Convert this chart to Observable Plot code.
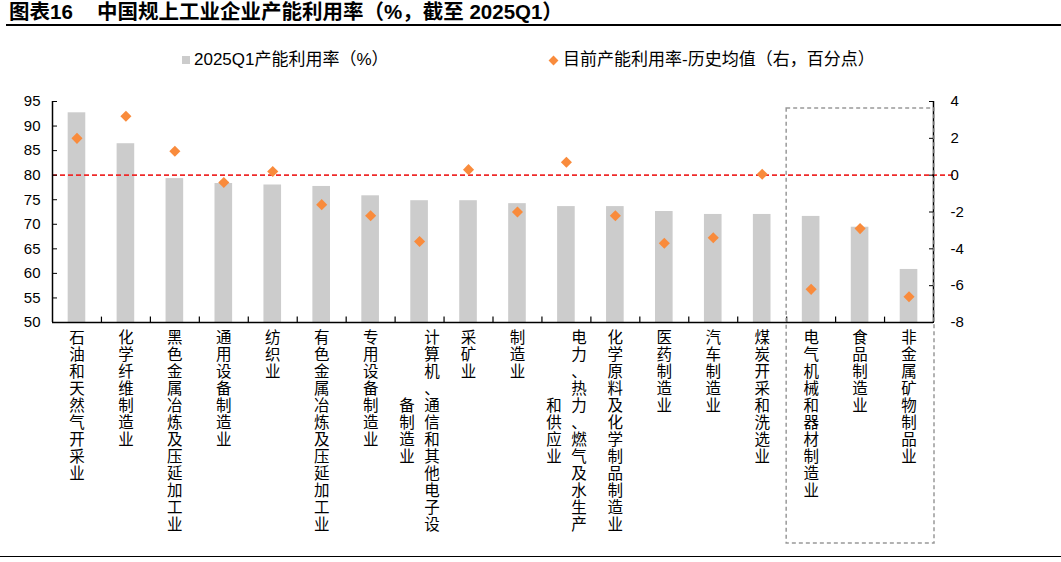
<!DOCTYPE html>
<html><head><meta charset="utf-8">
<script src="https://cdn.jsdelivr.net/npm/d3@7"></script>
<script src="https://cdn.jsdelivr.net/npm/@observablehq/plot@0.6"></script>
<style>
body{margin:0;background:#fff;font-family:"Liberation Sans","Noto Sans CJK SC",sans-serif;color:#000}
#wrap{position:relative;width:1061px;height:562px;overflow:hidden}
#title{position:absolute;left:6px;top:0;width:1055px;height:24px;border-bottom:2.5px solid #000;font-weight:bold;font-size:20.5px;line-height:24px;white-space:nowrap}
#title .t2{position:absolute;left:91px;top:0}
#title .t1{position:absolute;left:3px;top:0}
.leg{position:absolute;top:50px;font-size:17px;line-height:20px;white-space:nowrap}
.sq{position:absolute;width:8px;height:8px;background:#cccccc}
.dm{position:absolute;width:7px;height:7px;background:#f98b3c;transform:rotate(45deg)}
#chart{position:absolute;left:0;top:80px;width:1061px}
#bottomline{position:absolute;left:0;top:556px;width:1061px;height:0;border-top:1.5px solid #000}
</style></head>
<body>
<div id="wrap">
  <div id="title"><span class="t1">图表16</span><span class="t2">中国规上工业企业产能利用率（%，截至 2025Q1）</span></div>
  <div class="sq" style="left:182px;top:56px"></div>
  <div class="leg" style="left:194px">2025Q1产能利用率（%）</div>
  <div class="dm" style="left:550px;top:57px"></div>
  <div class="leg" style="left:563px">目前产能利用率-历史均值（右，百分点）</div>
  <div id="chart"></div>
  <div id="bottomline"></div>
</div>
<script>
const categories = ["石油和天然气开采业","化学纤维制造业","黑色金属冶炼及压延加工业","通用设备制造业","纺织业","有色金属冶炼及压延加工业","专用设备制造业","计算机、通信和其他电子设备制造业","采矿业","制造业","电力、热力、燃气及水生产和供应业","化学原料及化学制品制造业","医药制造业","汽车制造业","煤炭开采和洗选业","电气机械和器材制造业","食品制造业","非金属矿物制品业"];
const labelColumns = [["石油和天然气开采业"],["化学纤维制造业"],["黑色金属冶炼及压延加工业"],["通用设备制造业"],["纺织业"],["有色金属冶炼及压延加工业"],["专用设备制造业"],["计算机、通信和其他电子设","备制造业"],["采矿业"],["制造业"],["电力、热力、燃气及水生产","和供应业"],["化学原料及化学制品制造业"],["医药制造业"],["汽车制造业"],["煤炭开采和洗选业"],["电气机械和器材制造业"],["食品制造业"],["非金属矿物制品业"]];
const utilization = [92.7, 86.4, 79.3, 78.3, 78.0, 77.7, 75.8, 74.8, 74.8, 74.2, 73.6, 73.6, 72.6, 72.0, 72.0, 71.6, 69.4, 60.8];
const diffVsHistory = [2.0, 3.2, 1.3, -0.4, 0.2, -1.6, -2.2, -3.6, 0.3, -2.0, 0.7, -2.2, -3.7, -3.4, 0.05, -6.2, -2.9, -6.6];
const leftTicks = [50, 55, 60, 65, 70, 75, 80, 85, 90, 95];
const rightTicks = [-8, -6, -4, -2, 0, 2, 4];
const highlighted = ["电气机械和器材制造业","食品制造业","非金属矿物制品业"];

const leftDomain = [50, 95], rightDomain = [-8, 4];
const toLeft = v => leftDomain[0] + (v - rightDomain[0]) * (leftDomain[1] - leftDomain[0]) / (rightDomain[1] - rightDomain[0]);
const fromLeft = v => rightDomain[0] + (v - leftDomain[0]) * (rightDomain[1] - rightDomain[0]) / (leftDomain[1] - leftDomain[0]);

const data = categories.map((c, i) => ({cat: c, util: utilization[i], diff: diffVsHistory[i]}));

const W = 1061, H = 470, ML = 52, MR = 128, MT = 21, MB = 228;
const step = (W - ML - MR) / categories.length;
const fs = 15.5, lineStep = 17;
const font = '"Liberation Sans","Noto Sans CJK SC",sans-serif';

const labelMarks = categories.flatMap((c, i) => {
  const cols = labelColumns[i];
  if (cols.length === 1) {
    return [Plot.text([c], {x: d => d, frameAnchor: "bottom", text: () => cols[0].split("").join("\n"), lineAnchor: "top", dy: 8, fontSize: fs, lineHeight: lineStep / fs, fill: "#000", fontFamily: font})];
  }
  const n1 = cols[0].length, n2 = cols[1].length;
  return [
    Plot.text([c], {x: d => d, frameAnchor: "bottom", text: () => cols[0].split("").join("\n"), lineAnchor: "top", dy: 8, dx: 12.5, fontSize: fs, lineHeight: lineStep / fs, fill: "#000", fontFamily: font}),
    Plot.text([c], {x: d => d, frameAnchor: "bottom", text: () => cols[1].split("").join("\n"), lineAnchor: "top", dy: 8 + (n1 - n2) / 2 * lineStep, dx: -12.5, fontSize: fs, lineHeight: lineStep / fs, fill: "#000", fontFamily: font})
  ];
});

const plot = Plot.plot({
  width: W, height: H,
  marginLeft: ML, marginRight: MR, marginTop: MT, marginBottom: MB,
  style: {fontFamily: font, color: "#000", background: "#fff", overflow: "visible"},
  x: {type: "band", domain: categories, paddingInner: 0.64, paddingOuter: 0.32, round: false, axis: null},
  y: {domain: leftDomain, axis: null},
  marks: [
    Plot.barY(data, {x: "cat", y1: leftDomain[0], y2: "util", fill: "#cccccc"}),
    Plot.ruleY([toLeft(0)], {stroke: "#ee2a2a", strokeWidth: 1.6, strokeDasharray: "5,3", insetRight: -22}),
    Plot.dot(data, {x: "cat", y: d => toLeft(d.diff), symbol: "diamond2", r: 5, fill: "#f98b3c"}),
    Plot.ruleY([leftDomain[0]], {stroke: "#000", strokeWidth: 1.5}),
    Plot.ruleX([categories[0]], {x: d => d, dx: -step / 2, y1: leftDomain[0], y2: leftDomain[1], stroke: "#000", strokeWidth: 1.5}),
    Plot.ruleX([categories[categories.length - 1]], {x: d => d, dx: step / 2, y1: leftDomain[0], y2: leftDomain[1], stroke: "#000", strokeWidth: 1.5}),
    Plot.ruleX(categories.slice(1), {x: d => d, dx: -step / 2, y1: leftDomain[0], y2: leftDomain[0] + 1.1, stroke: "#000", strokeWidth: 1.2}),
    Plot.axisY(leftTicks, {anchor: "left", tickSize: -5, tickPadding: 17, fontSize: 15, tickFormat: d => d, label: null, stroke: "#000", fill: "#000"}),
    Plot.axisY(rightTicks.map(toLeft), {anchor: "right", tickSize: -5, tickPadding: 22, fontSize: 15, tickFormat: d => Math.round(fromLeft(d)), label: null, stroke: "#000", fill: "#000"}),
    ...labelMarks
  ]
});

document.getElementById("chart").appendChild(plot);

// highlight box derived from the x scale
const xs = plot.scale("x");
const first = xs.apply(highlighted[0]) + xs.bandwidth / 2 - xs.step / 2;
const last = xs.apply(highlighted[highlighted.length - 1]) + xs.bandwidth / 2 + xs.step / 2;
d3.select(plot).append("rect")
  .attr("x", first).attr("y", MT + 7)
  .attr("width", last - first + 1).attr("height", H - MT - 7 - 7)
  .attr("fill", "none").attr("stroke", "#999").attr("stroke-width", 1.5).attr("stroke-dasharray", "4,3");
</script>
</body></html>
